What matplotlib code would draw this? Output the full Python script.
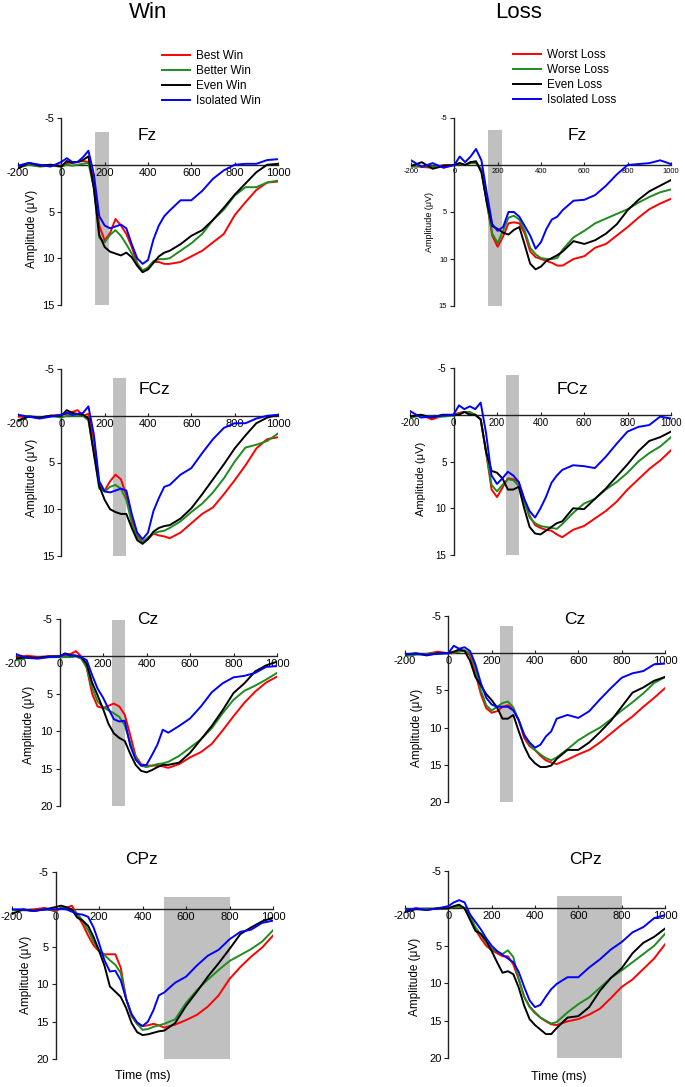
import matplotlib.pyplot as plt

plt.rcParams['font.family'] = ['Liberation Sans', 'DejaVu Sans']
plt.rcParams['axes.unicode_minus'] = False

W, H = 685, 1087

# time axis (ms) shared by every trace
t_ms = [-200, -150, -100, -50, 0, 25, 50, 75, 100, 125, 150, 175, 200, 225, 250, 275, 300,
        325, 350, 375, 400, 425, 450, 475, 500, 550, 600, 650, 700, 750, 800, 850, 900, 950, 1000]

win_labels = ['Best Win', 'Better Win', 'Even Win', 'Isolated Win']
loss_labels = ['Worst Loss', 'Worse Loss', 'Even Loss', 'Isolated Loss']
colors = ['#ff0000', '#1e8c1e', '#000000', '#0000ff']

# shaded analysis windows (ms)
win_fz = (155, 220)
win_fcz = (240, 300)
win_cz = (240, 300)
win_cpz = (500, 800)

# --- Fz ---
fz_win_best = [0.2, 0.0, 0.1, 0.0, 0.1, -0.2, -0.2, -0.3, -0.4, -0.3, 1.5, 6.5, 8.1, 7.3, 5.8, 6.5, 7.4, 8.8, 10.5, 11.4, 11.0, 10.4, 10.4, 10.6, 10.6, 10.4, 9.8, 9.2, 8.3, 7.4, 5.4, 4.0, 2.7, 1.9, 1.8]
fz_win_better = [0.3, 0.0, 0.2, 0.1, 0.2, 0.0, 0.1, 0.0, -0.1, -0.2, 2.5, 7.8, 8.3, 7.5, 7.0, 7.6, 8.5, 9.5, 10.6, 11.3, 11.0, 10.3, 10.1, 10.1, 10.0, 9.2, 8.4, 7.4, 5.9, 4.8, 3.3, 2.4, 2.4, 1.9, 1.7]
fz_win_even = [0.4, -0.2, 0.1, 0.0, 0.2, -0.4, -0.2, -0.3, -0.5, -0.9, 2.5, 7.5, 8.8, 9.3, 9.5, 9.7, 9.4, 9.9, 10.8, 11.5, 11.2, 10.5, 9.8, 9.4, 9.2, 8.5, 7.6, 7.0, 5.9, 4.6, 3.2, 2.0, 0.8, 0.0, -0.1]
fz_win_iso = [0.1, -0.2, 0.0, 0.2, -0.3, -0.7, -0.3, -0.3, -0.8, -1.5, 1.0, 5.5, 6.5, 6.8, 6.6, 6.4, 6.8, 8.5, 10.0, 10.6, 10.2, 8.0, 6.5, 5.5, 4.9, 3.8, 3.8, 2.8, 1.5, 0.6, 0.0, -0.1, -0.1, -0.5, -0.6]

fz_loss_worst = [0.1, 0.2, 0.3, 0.0, 0.0, -0.2, 0.0, -0.3, -0.3, 0.5, 4.0, 7.5, 8.7, 7.6, 6.2, 6.1, 6.2, 7.3, 9.2, 9.8, 10.0, 10.2, 10.4, 10.7, 10.7, 10.0, 9.7, 8.8, 8.4, 7.5, 6.6, 5.6, 4.7, 4.1, 3.6]
fz_loss_worse = [0.2, 0.1, 0.2, 0.1, 0.0, -0.1, 0.0, -0.2, -0.2, 0.5, 4.0, 7.3, 8.3, 7.0, 5.6, 5.4, 5.8, 7.0, 8.8, 9.5, 9.9, 10.0, 10.0, 9.9, 9.0, 7.7, 7.0, 6.2, 5.7, 5.2, 4.7, 4.0, 3.4, 2.9, 2.6]
fz_loss_even = [0.1, -0.3, 0.4, 0.1, 0.0, -0.2, 0.0, -0.3, -0.4, 0.8, 4.0, 6.5, 6.8, 7.2, 7.4, 6.9, 6.6, 8.5, 10.5, 11.1, 10.8, 10.2, 9.9, 9.6, 9.2, 8.1, 8.4, 8.0, 7.3, 6.3, 4.8, 3.7, 2.8, 2.2, 1.6]
fz_loss_iso = [-0.5, 0.2, -0.2, 0.3, 0.0, -0.9, -0.3, -0.9, -1.7, -0.5, 3.0, 6.3, 7.0, 6.6, 5.0, 5.0, 5.5, 6.5, 7.5, 8.9, 8.2, 6.8, 5.8, 5.5, 4.8, 3.8, 3.7, 3.2, 2.2, 1.0, 0.0, -0.1, -0.2, -0.5, -0.1]

# --- FCz ---
fcz_win_best = [0.1, 0.1, 0.2, 0.0, -0.1, -0.2, -0.4, -0.6, 0.0, -0.2, 2.5, 7.5, 8.0, 7.0, 6.3, 6.8, 8.5, 11.0, 12.8, 13.5, 13.2, 12.6, 12.8, 12.9, 13.1, 12.5, 11.5, 10.5, 9.8, 8.4, 6.9, 5.3, 3.5, 2.5, 2.3]
fcz_win_better = [0.6, 0.0, 0.2, 0.0, 0.2, 0.0, 0.0, 0.0, 0.0, 0.5, 4.0, 7.8, 8.1, 7.6, 7.4, 7.8, 9.0, 11.5, 13.0, 13.5, 13.0, 12.6, 12.4, 12.3, 12.0, 11.3, 10.3, 9.4, 8.2, 6.7, 4.9, 3.4, 3.1, 2.7, 1.9]
fcz_win_even = [0.5, 0.1, 0.2, 0.0, 0.0, -0.6, -0.3, -0.2, -0.1, 0.3, 4.0, 7.5, 9.0, 10.0, 10.3, 10.5, 10.5, 12.0, 13.3, 13.7, 13.2, 12.4, 12.0, 11.8, 11.7, 11.0, 9.9, 8.4, 6.8, 5.2, 3.5, 2.1, 0.8, 0.2, -0.1]
fcz_win_iso = [-0.1, 0.1, 0.3, 0.1, -0.1, -0.3, -0.1, -0.2, -0.3, -1.0, 2.0, 7.0, 8.1, 8.2, 8.0, 7.8, 8.0, 10.5, 12.5, 13.2, 12.5, 10.2, 8.8, 7.6, 7.4, 6.3, 5.6, 4.0, 2.5, 1.3, 0.8, 0.8, 0.3, 0.0, -0.1]

fcz_loss_worst = [0.2, 0.0, 0.5, 0.1, 0.0, -0.2, -0.3, -0.2, 0.0, 0.5, 4.0, 8.0, 8.8, 7.8, 6.8, 6.9, 7.2, 9.0, 10.8, 11.8, 12.1, 12.3, 12.4, 12.8, 13.1, 12.3, 11.9, 11.1, 10.3, 9.3, 8.0, 6.9, 5.8, 4.9, 3.8]
fcz_loss_worse = [0.3, 0.1, 0.2, 0.2, 0.1, -0.1, -0.3, -0.3, 0.0, 0.5, 4.0, 7.5, 8.2, 7.5, 6.9, 7.0, 7.6, 9.3, 11.0, 11.6, 11.9, 12.0, 12.1, 12.2, 11.7, 10.5, 9.5, 9.0, 8.0, 7.2, 6.2, 5.0, 4.1, 3.4, 2.4]
fcz_loss_even = [0.2, 0.0, 0.3, 0.0, 0.0, 0.0, -0.3, 0.0, 0.0, 0.5, 4.0, 6.0, 6.2, 6.8, 8.0, 8.0, 7.7, 10.0, 12.0, 12.7, 12.8, 12.4, 12.0, 11.6, 11.4, 10.0, 10.1, 9.0, 7.9, 6.6, 5.3, 3.9, 2.8, 2.4, 1.8]
fcz_loss_iso = [-0.4, 0.3, 0.2, 0.1, 0.0, -1.0, -0.6, -0.9, -0.6, -1.3, 2.0, 6.5, 7.4, 6.8, 6.1, 6.5, 7.2, 9.0, 10.3, 11.0, 10.0, 8.8, 7.3, 6.5, 5.9, 5.4, 5.5, 5.7, 4.5, 3.1, 1.8, 1.3, 1.1, 0.2, 0.4]

# --- Cz ---
cz_win_best = [0.2, -0.1, 0.1, 0.0, 0.0, -0.2, -0.3, -0.7, 0.0, 1.5, 5.0, 6.7, 6.9, 6.6, 6.3, 6.7, 7.8, 10.5, 13.3, 14.4, 14.6, 14.6, 14.6, 14.7, 14.9, 14.4, 13.5, 12.8, 11.7, 9.9, 8.0, 6.2, 4.7, 3.5, 2.7]
cz_win_better = [0.5, 0.2, 0.2, 0.1, 0.1, 0.1, 0.1, 0.0, 0.3, 1.5, 4.2, 6.0, 6.8, 7.2, 7.6, 8.1, 9.2, 11.5, 13.5, 14.6, 14.8, 14.6, 14.4, 14.3, 14.1, 13.3, 12.2, 11.1, 9.6, 7.6, 5.8, 4.6, 3.9, 3.1, 2.2]
cz_win_even = [0.3, 0.1, 0.2, 0.0, 0.0, -0.4, -0.2, -0.1, 0.1, 1.0, 3.5, 5.2, 7.0, 9.0, 10.3, 10.9, 11.3, 13.0, 14.5, 15.3, 15.5, 15.2, 14.8, 14.5, 14.5, 14.2, 12.9, 11.1, 9.3, 7.2, 4.9, 3.6, 2.0, 1.2, 0.7]
cz_win_iso = [-0.3, 0.2, 0.3, 0.1, 0.0, -0.3, -0.1, -0.1, 0.1, 0.5, 2.5, 4.3, 5.5, 7.0, 8.4, 8.7, 8.6, 11.9, 13.8, 14.6, 14.5, 13.2, 11.8, 9.8, 10.2, 9.3, 8.3, 6.7, 4.8, 3.6, 2.8, 2.6, 2.2, 1.4, 1.3]

cz_loss_worst = [0.3, 0.1, 0.1, -0.2, 0.0, 0.0, -0.3, -0.3, 0.3, 2.7, 5.5, 7.4, 8.0, 7.8, 7.2, 7.0, 7.5, 9.0, 11.4, 12.5, 13.0, 13.8, 14.4, 14.7, 14.9, 14.3, 13.6, 13.0, 12.0, 10.8, 9.6, 8.5, 7.2, 6.0, 4.7]
cz_loss_worse = [0.4, 0.2, 0.1, 0.0, 0.0, -0.1, -0.2, -0.4, 0.0, 2.0, 5.0, 7.0, 7.7, 7.2, 6.7, 6.5, 7.3, 9.0, 10.9, 12.3, 13.0, 13.6, 14.1, 14.4, 14.0, 12.9, 11.7, 10.8, 10.0, 8.9, 7.7, 6.6, 5.4, 4.0, 3.2]
cz_loss_even = [0.2, 0.0, 0.3, 0.0, 0.0, -0.2, -0.5, -0.3, 1.0, 3.2, 4.3, 5.5, 6.3, 7.3, 8.8, 8.8, 8.3, 10.5, 12.5, 14.0, 14.8, 15.3, 15.3, 15.1, 14.2, 13.0, 13.0, 12.0, 10.6, 9.1, 7.2, 5.3, 4.6, 3.7, 3.2]
cz_loss_iso = [0.1, 0.1, 0.2, 0.1, 0.0, -1.0, -0.6, -0.8, -0.3, 1.5, 4.0, 6.0, 6.9, 7.2, 7.2, 7.2, 7.7, 9.0, 11.0, 12.0, 12.7, 12.3, 11.2, 10.5, 8.8, 8.3, 8.7, 7.8, 6.2, 4.7, 3.3, 2.7, 2.4, 1.5, 1.4]

# --- CPz ---
cpz_win_best = [0.1, 0.1, 0.0, -0.2, 0.3, -0.2, -0.2, -0.5, 0.7, 2.0, 3.5, 4.8, 5.6, 6.0, 6.0, 6.0, 7.8, 12.0, 14.3, 15.3, 15.6, 15.5, 15.3, 15.5, 15.8, 15.4, 14.8, 14.1, 13.0, 11.5, 9.3, 7.7, 6.3, 5.1, 3.5]
cpz_win_better = [0.1, 0.1, 0.2, 0.0, 0.1, -0.2, -0.1, 0.0, 0.6, 1.5, 2.8, 4.3, 5.5, 6.1, 6.8, 7.4, 8.5, 12.0, 14.2, 15.3, 16.1, 16.0, 15.7, 15.5, 15.3, 14.7, 12.5, 10.8, 9.4, 8.1, 6.9, 6.1, 5.3, 4.3, 2.8]
cpz_win_even = [0.6, 0.0, 0.2, 0.0, -0.3, -0.5, -0.3, 0.0, 1.1, 1.5, 2.2, 3.7, 5.5, 7.5, 10.3, 11.0, 11.7, 13.2, 15.2, 16.4, 16.8, 16.7, 16.5, 16.3, 16.2, 15.2, 12.9, 11.0, 9.0, 7.2, 5.3, 3.3, 2.4, 1.6, 1.1]
cpz_win_iso = [0.0, 0.0, 0.2, 0.0, 0.0, -0.1, 0.0, 0.3, 0.6, 0.7, 1.0, 2.4, 4.5, 6.8, 8.3, 8.2, 9.5, 12.0, 14.0, 15.1, 15.6, 15.0, 13.5, 11.5, 11.1, 9.8, 9.0, 7.5, 6.2, 5.4, 4.0, 3.0, 2.7, 1.8, 1.5]

cpz_loss_worst = [0.3, 0.0, 0.1, 0.0, 0.0, -0.2, -0.3, 0.0, 1.2, 2.8, 4.0, 5.0, 5.6, 6.0, 6.4, 6.4, 7.5, 9.5, 11.8, 13.1, 13.9, 14.6, 15.1, 15.5, 15.6, 15.1, 14.8, 14.2, 13.4, 12.0, 10.5, 9.5, 8.1, 6.7, 4.8]
cpz_loss_worse = [0.2, 0.1, 0.0, 0.1, 0.0, -0.2, -0.2, -0.1, 1.0, 2.5, 3.5, 4.6, 5.4, 5.8, 6.1, 5.6, 6.5, 9.5, 11.8, 13.2, 14.0, 14.6, 15.0, 15.4, 15.2, 13.9, 12.8, 11.9, 10.6, 9.3, 8.3, 7.2, 6.1, 5.0, 3.4]
cpz_loss_even = [0.5, 0.1, 0.2, 0.0, 0.0, -0.3, -0.5, 0.0, 1.5, 3.0, 3.4, 4.3, 5.7, 7.2, 8.6, 8.4, 8.8, 10.6, 13.0, 14.8, 15.6, 16.2, 16.8, 16.8, 16.0, 14.6, 14.4, 13.2, 11.0, 9.3, 8.0, 6.0, 4.6, 3.8, 2.7]
cpz_loss_iso = [0.3, 0.0, 0.2, 0.0, -0.3, -0.8, -1.1, -0.8, 0.8, 1.8, 2.8, 4.0, 5.0, 5.7, 6.2, 6.7, 7.2, 8.5, 10.5, 12.3, 13.2, 12.9, 11.8, 10.8, 10.1, 9.2, 9.2, 7.9, 6.8, 5.5, 4.5, 3.2, 2.5, 1.3, 0.9]


def fx(x):
    return x / W


def fy(y):
    return 1 - y / H


# name, traces, window, ymax, bar top, axes box in px (x at -200, x at 1000, y at -5, y at ymax),
# title pos, ylabel pos, tick size, ylabel size
panels = [
    ('Fz', [fz_win_best, fz_win_better, fz_win_even, fz_win_iso], win_fz, 15, -3.5,
     (18, 278, 118, 305), (147, 135), (32, 229), 8, 8.5),
    ('Fz', [fz_loss_worst, fz_loss_worse, fz_loss_even, fz_loss_iso], win_fz, 15, -3.7,
     (411, 671, 118, 306), (577, 135), (430, 222), 5.5, 6.5),
    ('FCz', [fcz_win_best, fcz_win_better, fcz_win_even, fcz_win_iso], win_fcz, 15, -4.0,
     (18, 278, 369, 556), (154, 390), (32, 478), 8, 8.5),
    ('FCz', [fcz_loss_worst, fcz_loss_worse, fcz_loss_even, fcz_loss_iso], win_fcz, 15, -4.2,
     (410, 671, 368, 555), (572, 390), (421, 479), 7, 8),
    ('Cz', [cz_win_best, cz_win_better, cz_win_even, cz_win_iso], win_cz, 20, -4.8,
     (16, 277, 619, 806), (148, 620), (29, 725), 8, 8.5),
    ('Cz', [cz_loss_worst, cz_loss_worse, cz_loss_even, cz_loss_iso], win_cz, 20, -3.7,
     (405, 665, 616, 802), (575, 620), (417, 728), 8, 8.5),
    ('CPz', [cpz_win_best, cpz_win_better, cpz_win_even, cpz_win_iso], win_cpz, 20, -1.6,
     (12, 273, 872, 1059), (142, 860), (26, 975), 8, 8.5),
    ('CPz', [cpz_loss_worst, cpz_loss_worse, cpz_loss_even, cpz_loss_iso], win_cpz, 20, -1.7,
     (405, 665, 871, 1058), (585, 860), (415, 977), 8, 8.5),
]

fig = plt.figure(figsize=(W / 100, H / 100), dpi=100)

axes = []
for name, traces, window, ymax, bar_top, box, tpos, lpos, tsize, lsize in panels:
    x0, x1, ytop, ybot = box
    ax = fig.add_axes([fx(x0), fy(ybot), (x1 - x0) / W, (ybot - ytop) / H])
    ax.patch.set_visible(False)
    ax.fill_betweenx([bar_top, ymax], window[0], window[1], color='#c0c0c0', lw=0, zorder=1)
    for vals, c in zip(traces, colors):
        ax.plot(t_ms, vals, color=c, lw=1.4, zorder=3)
    ax.set_xlim(-200, 1000)
    ax.set_ylim(ymax, -5)
    for s in ['top', 'right']:
        ax.spines[s].set_visible(False)
    ax.spines['left'].set_position(('data', 0))
    ax.spines['bottom'].set_position(('data', 0))
    for s in ['left', 'bottom']:
        ax.spines[s].set_color('#222222')
        ax.spines[s].set_linewidth(1.0)
        ax.spines[s].set_zorder(2)
    ax.set_xticks(range(-200, 1001, 200))
    ax.set_yticks([-5] + list(range(5, ymax + 1, 5)))
    ax.tick_params(axis='x', direction='in', length=2, pad=2, labelsize=tsize, color='#222222')
    ax.tick_params(axis='y', direction='out', length=3, pad=2, labelsize=tsize, color='#222222')
    fig.text(fx(tpos[0]), fy(tpos[1]), name, fontsize=12.5, ha='center', va='center')
    fig.text(fx(lpos[0]), fy(lpos[1]), 'Amplitude (\u03bcV)', fontsize=lsize,
             rotation=90, ha='center', va='center')
    axes.append(ax)

fig.text(fx(148), fy(12), 'Win', fontsize=16, ha='center', va='center')
fig.text(fx(519), fy(12), 'Loss', fontsize=16, ha='center', va='center')
fig.text(fx(143), fy(1076), 'Time (ms)', fontsize=9, ha='center', va='center')
fig.text(fx(559), fy(1077), 'Time (ms)', fontsize=9, ha='center', va='center')

leg_kw = dict(loc='upper left', frameon=False, fontsize=8.5, handlelength=2.4,
              handletextpad=0.5, labelspacing=0.25, borderpad=0, borderaxespad=0)
fig.legend(axes[0].get_lines(), win_labels, bbox_to_anchor=(fx(162), fy(50)), **leg_kw)
fig.legend(axes[1].get_lines(), loss_labels, bbox_to_anchor=(fx(513), fy(49)), **leg_kw)

fig.savefig('out.png', dpi=100)
